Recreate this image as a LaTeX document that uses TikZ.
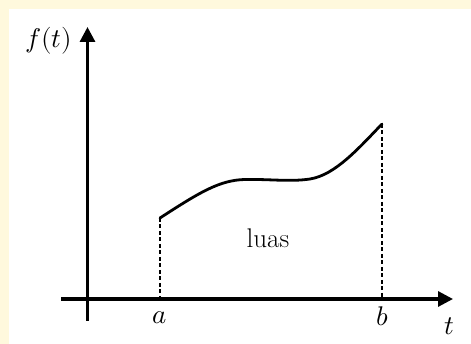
\documentclass[tikz,border=0pt]{standalone}
\usepackage{fontspec}
\usepackage{unicode-math}
\usetikzlibrary{arrows.meta}
\definecolor{bgyellow}{RGB}{255,249,221}
\tikzset{
  axisline/.style={line width=3.2pt,-{Triangle[width=15pt,length=15pt]}},
  curveline/.style={line width=2.8pt,line cap=round},
  dropline/.style={line width=1.6pt,dash pattern=on 4pt off 2.5pt},
  lbl/.style={inner sep=0pt,font=\fontsize{27}{31}\selectfont}
}
\begin{document}
\begin{tikzpicture}[x=1pt,y=-1pt]
\fill[bgyellow] (0,0) rectangle (471,344);
\fill[white] (9,9) rectangle (471,344);
\useasboundingbox (0,0) rectangle (471,344);
% axes
\coordinate (ybot) at (87.5,321);
\coordinate (ytop) at (87.5,27);
\coordinate (xleft) at (61,299);
\coordinate (xright) at (453,299);
\draw[axisline] (ybot) -- (ytop);
\draw[axisline] (xleft) -- (xright);
% curve
\coordinate (atop) at (160,218);
\coordinate (btop) at (382,124);
\coordinate (abase) at (160,299);
\coordinate (bbase) at (382,299);
\draw[curveline] (atop) .. controls (200,192) and (220,180) .. (245,179.5)
  .. controls (270,179) and (290,182) .. (310,179)
  .. controls (335,175) and (358,149) .. (btop);
\draw[dropline] (atop) -- (abase);
\draw[dropline] (btop) -- (bbase);
% labels
\node[lbl] (fl) at (49,41) {$f(t)$};
\node[lbl] (al) at (160,318) {$a$};
\node[lbl] (bl) at (382,316) {$b$};
\node[lbl] (tl) at (449,326) {$t$};
\node[lbl] (luas) at (268,238) {luas};
\end{tikzpicture}
\end{document}
